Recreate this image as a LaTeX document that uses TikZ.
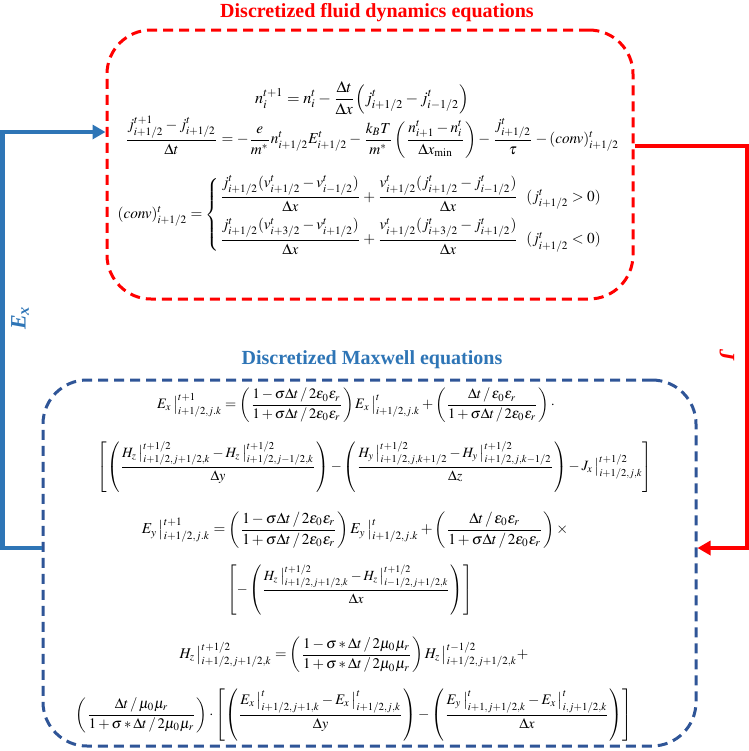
\documentclass[tikz,border=0pt]{standalone}
\usepackage{amsmath, amssymb}
\usepackage{mathptmx}
\usepackage[no-math]{fontspec}
\setmainfont{Liberation Serif}
\usetikzlibrary{arrows.meta}

\definecolor{fluidred}{RGB}{255,0,0}
\definecolor{maxblue}{RGB}{47,85,151}
\definecolor{linkblue}{RGB}{46,117,182}

% evaluation bar: field |^{time}_{index}
\newcommand{\evl}[3]{#1\,\big|^{#2}_{#3}}

\tikzset{
  eqbox/.style={rounded corners=22pt, line width=1.5pt, dash pattern=on 5pt off 3pt, inner sep=0pt},
  boxtitle/.style={inner sep=0pt, font=\fontsize{10}{12}\selectfont\bfseries},
  eqline/.style={inner sep=0pt, font=\fontsize{7.6}{9}\selectfont},
  link/.style={line width=2.4pt, -{Triangle[length=6.5pt,width=7pt]}},
  linklabel/.style={inner sep=0pt, font=\fontsize{11}{13}\selectfont\bfseries\itshape}
}

\begin{document}
\begin{tikzpicture}[x=0.5pt, y=-0.5pt]
	\useasboundingbox (0,0) rectangle (749,751);

	% Heights of the two links
	\coordinate (exin) at (0,132);
	\coordinate (jout) at (0,146);
	\coordinate (low) at (0,548);

	% Draw the two dashed boxes
	\node[eqbox, draw=fluidred, minimum width=263pt, minimum height=134.5pt] (fluid) at (370,164.5) {};
	\node[eqbox, draw=maxblue, minimum width=326.5pt, minimum height=183pt] (maxwell) at (369.5,563) {};

	% Titles
	\node[boxtitle, text=fluidred] (fluidtitle) at (377,13) {Discretized fluid dynamics equations};
	\node[boxtitle, text=linkblue] (maxtitle) at (372,360) {Discretized Maxwell equations};

	% Fluid dynamics equations
	\node[eqline, font=\fontsize{8.1}{10}\selectfont] (cont) at (362,98)
		{$\displaystyle n_i^{t+1} = n_i^t - \frac{\Delta t}{\Delta x}\Big(j^t_{i+1/2} - j^t_{i-1/2}\Big)$};
	\node[eqline] (mom) at (372,137)
		{$\displaystyle \frac{j^{t+1}_{i+1/2} - j^t_{i+1/2}}{\Delta t} = -\frac{e}{m^*}n^t_{i+1/2}E^t_{i+1/2} - \frac{k_BT}{m^*}\left(\frac{n^t_{i+1} - n^t_i}{\Delta x_{\min}}\right) - \frac{j^t_{i+1/2}}{\tau} - (conv)^t_{i+1/2}$};
	\node[eqline] (conv) at (368,215)
		{$\displaystyle (conv)^t_{i+1/2} = \begin{cases}
		\dfrac{j^t_{i+1/2}(v^t_{i+1/2} - v^t_{i-1/2})}{\Delta x} + \dfrac{v^t_{i+1/2}(j^t_{i+1/2} - j^t_{i-1/2})}{\Delta x}\ \ (j^t_{i+1/2} > 0)\\[5pt]
		\dfrac{j^t_{i+1/2}(v^t_{i+3/2} - v^t_{i+1/2})}{\Delta x} + \dfrac{v^t_{i+1/2}(j^t_{i+3/2} - j^t_{i+1/2})}{\Delta x}\ \ (j^t_{i+1/2} < 0)
		\end{cases}$};

	% Maxwell equations
	\node[eqline, font=\fontsize{7.2}{9}\selectfont] (exa) at (356,405)
		{$\displaystyle \evl{E_x}{t+1}{i+1/2,j.k} = \left(\frac{1-\sigma\Delta t\,/\,2\varepsilon_0\varepsilon_r}{1+\sigma\Delta t\,/\,2\varepsilon_0\varepsilon_r}\right)\evl{E_x}{t}{i+1/2,j.k} + \left(\frac{\Delta t\,/\,\varepsilon_0\varepsilon_r}{1+\sigma\Delta t\,/\,2\varepsilon_0\varepsilon_r}\right)\cdot$};
	\node[eqline, font=\fontsize{7.1}{9}\selectfont] (exb) at (375,467)
		{$\displaystyle \left[\left(\frac{\evl{H_z}{t+1/2}{i+1/2,j+1/2,k} - \evl{H_z}{t+1/2}{i+1/2,j-1/2,k}}{\Delta y}\right) - \left(\frac{\evl{H_y}{t+1/2}{i+1/2,j,k+1/2} - \evl{H_y}{t+1/2}{i+1/2,j,k-1/2}}{\Delta z}\right) - \evl{J_x}{t+1/2}{i+1/2,j,k}\right]$};
	\node[eqline] (eya) at (355,530)
		{$\displaystyle \evl{E_y}{t+1}{i+1/2,j.k} = \left(\frac{1-\sigma\Delta t\,/\,2\varepsilon_0\varepsilon_r}{1+\sigma\Delta t\,/\,2\varepsilon_0\varepsilon_r}\right)\evl{E_y}{t}{i+1/2,j.k} + \left(\frac{\Delta t\,/\,\varepsilon_0\varepsilon_r}{1+\sigma\Delta t\,/\,2\varepsilon_0\varepsilon_r}\right)\times$};
	\node[eqline, font=\fontsize{7}{9}\selectfont] (eyb) at (350,590)
		{$\displaystyle \left[-\left(\frac{\evl{H_z}{t+1/2}{i+1/2,j+1/2,k} - \evl{H_z}{t+1/2}{i-1/2,j+1/2,k}}{\Delta x}\right)\right]$};
	\node[eqline, font=\fontsize{7.4}{9}\selectfont] (hza) at (354,655)
		{$\displaystyle \evl{H_z}{t+1/2}{i+1/2,j+1/2,k} = \left(\frac{1-\sigma * \Delta t\,/\,2\mu_0\mu_r}{1+\sigma * \Delta t\,/\,2\mu_0\mu_r}\right)\evl{H_z}{t-1/2}{i+1/2,j+1/2,k} +$};
	\node[eqline, font=\fontsize{7.3}{9}\selectfont] (hzb) at (354,715)
		{$\displaystyle \left(\frac{\Delta t\,/\,\mu_0\mu_r}{1+\sigma * \Delta t\,/\,2\mu_0\mu_r}\right)\cdot\left[\left(\frac{\evl{E_x}{t}{i+1/2,j+1,k} - \evl{E_x}{t}{i+1/2,j,k}}{\Delta y}\right) - \left(\frac{\evl{E_y}{t}{i+1,j+1/2,k} - \evl{E_x}{t}{i,j+1/2,k}}{\Delta x}\right)\right]$};

	% Ex goes back to the fluid box
	\draw[link, linkblue] (maxwell.west |- low) -- ++(-39,0) |- (fluid.west |- exin);
	\node[linklabel, text=linkblue, rotate=90] (exlabel) at (20,318) {E\textsubscript{x}};

	% J goes on to the Maxwell box
	\draw[link, fluidred] (fluid.east |- jout) -- ++(113,0) |- (maxwell.east |- low);
	\node[linklabel, text=fluidred, rotate=-90] (jlabel) at (727,355) {J};
\end{tikzpicture}
\end{document}
